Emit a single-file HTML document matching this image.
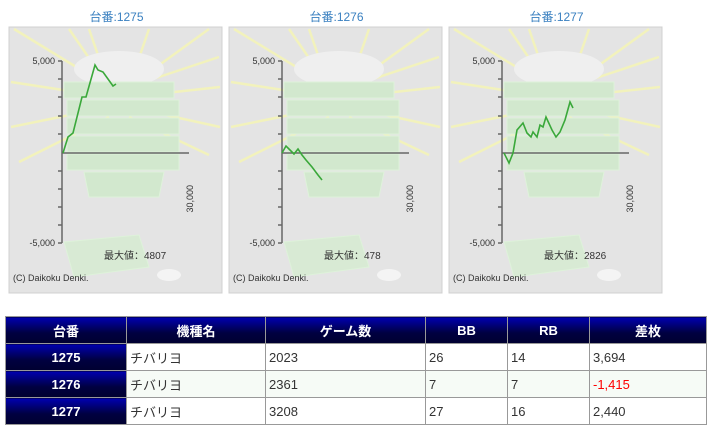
<!DOCTYPE html>
<html><head><meta charset="utf-8"><style>
body{margin:0;width:711px;height:433px;background:#fff;font-family:"Liberation Sans","Noto Sans CJK JP",sans-serif;position:relative;overflow:hidden}
.t{position:absolute;top:8px;width:213px;text-align:center;font-size:12px;color:#3a80c0}
svg{position:absolute;left:0;top:0}
table{position:absolute;left:5px;top:316px;width:702px;border-collapse:collapse;font-size:13px}
td,th{border:1px solid #999;height:26px;padding:0 3px;color:#333}
th{background:linear-gradient(#0000b0,#000040 60%,#000030);color:#fff;font-weight:bold;text-align:center}
tr.a td{background:#fff}tr.b td{background:#f6fbf6}
tr td.h{background:linear-gradient(#0000b0,#000040 60%,#000030);color:#fff;font-weight:bold;text-align:center}
</style></head><body>
<div class="t" style="left:10px">台番:1275</div>
<div class="t" style="left:230px">台番:1276</div>
<div class="t" style="left:450px">台番:1277</div>
<svg width="711" height="300" font-family="Liberation Sans,sans-serif">
<defs>
<g id="bg">
<rect x="0" y="0" width="213" height="266" fill="#e4e4e4" stroke="#d0d0d0"/>
<g stroke="#f4f4b8" stroke-width="2.5" opacity=".9">
<line x1="100" y1="60" x2="5" y2="2"/><line x1="100" y1="60" x2="60" y2="2"/><line x1="100" y1="60" x2="80" y2="2"/>
<line x1="120" y1="60" x2="140" y2="2"/><line x1="120" y1="60" x2="200" y2="2"/><line x1="120" y1="60" x2="210" y2="30"/>
<line x1="100" y1="70" x2="2" y2="55"/><line x1="100" y1="80" x2="2" y2="100"/><line x1="100" y1="90" x2="10" y2="135"/>
<line x1="120" y1="70" x2="211" y2="60"/><line x1="120" y1="80" x2="211" y2="100"/><line x1="120" y1="90" x2="200" y2="128"/>
</g>
<ellipse cx="110" cy="42" rx="45" ry="18" fill="#efefef"/>
<g fill="#d2e8ce" stroke="#def2da">
<rect x="55" y="55" width="110" height="16"/><rect x="58" y="73" width="112" height="16"/><rect x="58" y="91" width="112" height="16"/><rect x="58" y="109" width="112" height="16"/><rect x="58" y="127" width="112" height="16"/>
<path d="M75 145 H155 L150 170 H80Z"/>
<path d="M55 215 L130 208 L140 240 L65 250Z" fill="#d8ead4"/>
</g>
<ellipse cx="160" cy="248" rx="12" ry="6" fill="#f4f4f4"/>
</g>
<g id="ax" fill="none" stroke="#666" stroke-width="1.5">
<line x1="53" y1="34" x2="53" y2="216"/><line x1="53" y1="126" x2="180" y2="126"/>
<path d="M49 34h4M49 52h4M49 70h4M49 89h4M49 107h4M49 144h4M49 162h4M49 180h4M49 198h4M49 216h4" />
</g>
<g id="tx" font-size="9" fill="#333">
<text x="46" y="37" text-anchor="end">5,000</text>
<text x="46" y="219" text-anchor="end">-5,000</text>
<text transform="translate(184,158) rotate(-90)" text-anchor="end">30,000</text>
<text x="4" y="254" font-size="9">(C) Daikoku Denki.</text>
</g>
</defs>
<g transform="translate(9,27)"><use href="#bg"/><use href="#ax"/><use href="#tx"/><text x="95" y="232" font-size="10" fill="#333">最大値：4807</text></g>
<g transform="translate(229,27)"><use href="#bg"/><use href="#ax"/><use href="#tx"/><text x="95" y="232" font-size="10" fill="#333">最大値：478</text></g>
<g transform="translate(449,27)"><use href="#bg"/><use href="#ax"/><use href="#tx"/><text x="95" y="232" font-size="10" fill="#333">最大値：2826</text></g>
<g fill="none" stroke="#3aa83a" stroke-width="1.6">
<polyline points="63,153 68,137 73,133 82,97 86,97 95,65 98,70 103,72 113,86 116,84"/>
<polyline points="282,153 286,146 290,150 294,154 298,149 302,155 306,160 312,167 318,175 322,180"/>
<polyline points="504,153 509,163 513,153 517,130 523,123 527,133 531,137 533,132 537,137 540,125 543,127 546,117 552,130 556,137 560,132 565,120 570,102 573,108"/>
</g>
</svg>
<table>
<tr><th style="width:114px">台番</th><th style="width:132px">機種名</th><th style="width:153px">ゲーム数</th><th style="width:75px">BB</th><th style="width:75px">RB</th><th>差枚</th></tr>
<tr class="a"><td class="h">1275</td><td>チバリヨ</td><td>2023</td><td>26</td><td>14</td><td>3,694</td></tr>
<tr class="b"><td class="h">1276</td><td>チバリヨ</td><td>2361</td><td>7</td><td>7</td><td style="color:#f00">-1,415</td></tr>
<tr class="a"><td class="h">1277</td><td>チバリヨ</td><td>3208</td><td>27</td><td>16</td><td>2,440</td></tr>
</table>
</body></html>
